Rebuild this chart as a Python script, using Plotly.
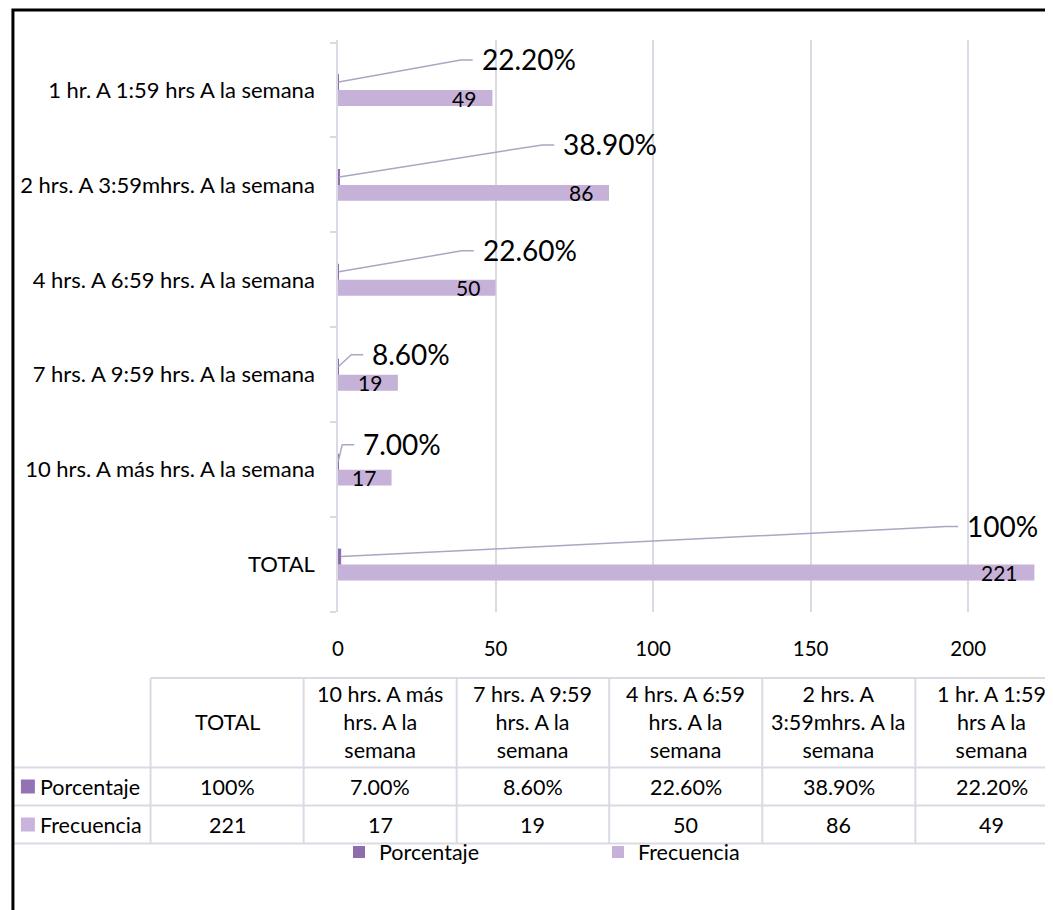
import plotly.graph_objects as go

# ---------------- data ----------------
categories = [
    "TOTAL",
    "10 hrs. A más hrs. A la semana",
    "7 hrs. A 9:59 hrs. A la semana",
    "4 hrs. A 6:59 hrs. A la semana",
    "2 hrs. A 3:59mhrs. A la semana",
    "1 hr. A 1:59 hrs A la semana",
]
table_headers = [
    "TOTAL",
    "10 hrs. A más<br>hrs. A la<br>semana",
    "7 hrs. A 9:59<br>hrs. A la<br>semana",
    "4 hrs. A 6:59<br>hrs. A la<br>semana",
    "2 hrs. A<br>3:59mhrs. A la<br>semana",
    "1 hr. A 1:59<br>hrs A la<br>semana",
]
porcentaje = [1.00, 0.070, 0.086, 0.226, 0.389, 0.222]
porcentaje_labels = ["100%", "7.00%", "8.60%", "22.60%", "38.90%", "22.20%"]
frecuencia = [221, 17, 19, 50, 86, 49]
x_ticks = [0, 50, 100, 150, 200]

# leader-line geometry for the percentage labels (pixels, layout only)
leader_dx = [605, 4, 13, 123, 203, 122]
leader_dy = [30, 17, 12, 21, 32, 22]

# ---------------- layout constants ----------------
OFFX, OFFY = 8, 8            # page body margin of the html page
W, H = 1053, 910 - OFFY
L, T = 336 - OFFX, 40 - OFFY
R = W - (1035 - OFFX)
B = H - (612 - OFFY)
PW, PH = W - L - R, H - T - B
FONT = "Lato"
C_POR = "#8e6cae"
C_FRE = "#c6b1d9"
C_POR_KEY = "#9373b4"
C_FRE_KEY = "#c8b4dc"
GRID = "#dadae5"
TXT = "#000000"


def fx(px):
    """page pixel x -> paper fraction"""
    return (px - OFFX - L) / PW


def fy(py):
    """page pixel y -> paper fraction"""
    return (H - B - (py - OFFY)) / PH


fig = go.Figure()
fig.add_trace(go.Bar(
    name="Frecuencia", y=categories, x=frecuencia, orientation="h",
    marker=dict(color=C_FRE, line=dict(width=0)), legendrank=2,
))
fig.add_trace(go.Bar(
    name="Porcentaje", y=categories, x=porcentaje, orientation="h",
    marker=dict(color=C_POR, line=dict(width=0)), legendrank=1,
))

annotations = []
shapes = []

# Frecuencia labels (inside end)
for c, v in zip(categories, frecuencia):
    annotations.append(dict(
        x=v, y=c, xref="x", yref="y", text=str(v), showarrow=False,
        xanchor="right", yanchor="middle", xshift=-14, yshift=-8,
        font=dict(family=FONT, size=21, color=TXT),
    ))

# Porcentaje labels with leader lines
for c, v, lab, dx, dy in zip(categories, porcentaje, porcentaje_labels, leader_dx, leader_dy):
    shapes.append(dict(
        type="path", xref="x", yref="y", xsizemode="pixel", ysizemode="pixel",
        xanchor=v, yanchor=c,
        path=f"M0,8 L{dx},{8 + dy} L{dx + 12},{8 + dy}",
        line=dict(color="#aba6c3", width=1.5),
    ))
    annotations.append(dict(
        x=v, y=c, xref="x", yref="y", text=lab, showarrow=False,
        xanchor="left", yanchor="middle", xshift=dx + 12 + 7, yshift=8 + dy + 1,
        font=dict(family=FONT, size=28, color=TXT),
    ))

# ---------------- data table ----------------
col_x = [148, 301.5, 455, 608, 761.5, 915, 1068]
row_y = [678, 767.5, 805.5, 843.5]
line_style = dict(color=GRID, width=2)
shapes.append(dict(type="line", xref="paper", yref="paper",
                   x0=fx(col_x[0]), x1=fx(col_x[-1]), y0=fy(row_y[0]), y1=fy(row_y[0]), line=line_style))
for yy in row_y[1:]:
    shapes.append(dict(type="line", xref="paper", yref="paper",
                       x0=fx(10), x1=fx(col_x[-1]), y0=fy(yy), y1=fy(yy), line=line_style))
for xx in col_x:
    shapes.append(dict(type="line", xref="paper", yref="paper",
                       x0=fx(xx), x1=fx(xx), y0=fy(row_y[0]), y1=fy(row_y[-1]), line=line_style))

cell_font = dict(family=FONT, size=21.5, color=TXT)
for i, (hdr, p, f) in enumerate(zip(table_headers, porcentaje_labels, frecuencia)):
    cx = (col_x[i] + col_x[i + 1]) / 2
    annotations.append(dict(x=fx(cx), y=fy((row_y[0] + row_y[1]) / 2 - 1), xref="paper", yref="paper",
                            text=hdr, showarrow=False, xanchor="center", yanchor="middle", font=cell_font))
    annotations.append(dict(x=fx(cx), y=fy((row_y[1] + row_y[2]) / 2), xref="paper", yref="paper",
                            text=p, showarrow=False, xanchor="center", yanchor="middle", font=cell_font))
    annotations.append(dict(x=fx(cx), y=fy((row_y[2] + row_y[3]) / 2), xref="paper", yref="paper",
                            text=str(f), showarrow=False, xanchor="center", yanchor="middle", font=cell_font))

for name, col, r0, r1 in [("Porcentaje", C_POR_KEY, row_y[1], row_y[2]),
                          ("Frecuencia", C_FRE_KEY, row_y[2], row_y[3])]:
    cy = (r0 + r1) / 2
    shapes.append(dict(type="rect", xref="paper", yref="paper",
                       x0=fx(18), x1=fx(32), y0=fy(cy - 7), y1=fy(cy + 7),
                       fillcolor=col, line=dict(width=0)))
    annotations.append(dict(x=fx(35), y=fy(cy), xref="paper", yref="paper", text=name,
                            showarrow=False, xanchor="left", yanchor="middle", font=cell_font))

# outer border
shapes.append(dict(type="rect", xref="paper", yref="paper",
                   x0=fx(10), x1=fx(1053 + 20), y0=fy(10), y1=fy(910 + 20),
                   line=dict(color="black", width=3), fillcolor="rgba(0,0,0,0)", layer="above"))

fig.update_layout(
    width=W, height=H,
    margin=dict(l=L, r=R, t=T, b=B, pad=0),
    paper_bgcolor="white", plot_bgcolor="white",
    barmode="group", bargap=0.664, bargroupgap=0,
    font=dict(family=FONT, size=21, color=TXT),
    showlegend=True,
    legend=dict(
        orientation="h", x=fx(337), xanchor="left", y=fy(852), yanchor="middle",
        entrywidth=214, entrywidthmode="pixels", font=dict(family=FONT, size=21.5, color=TXT),
        bgcolor="rgba(0,0,0,0)", traceorder="normal",
    ),
    xaxis=dict(
        range=[0, 221.2], tickvals=x_ticks, showgrid=True, gridcolor=GRID, gridwidth=1.5,
        zeroline=False, showline=False, ticks="", ticklabelstandoff=22,
        tickfont=dict(family=FONT, size=20.5, color=TXT), fixedrange=True,
    ),
    yaxis=dict(
        type="category", categoryorder="array", categoryarray=categories,
        showline=True, linecolor=GRID, linewidth=1.5, showgrid=False, zeroline=False,
        ticks="outside", tickson="boundaries", ticklen=6, tickcolor=GRID, tickwidth=1.5,
        ticklabelstandoff=17, tickfont=dict(family=FONT, size=22, color=TXT), fixedrange=True,
    ),
    annotations=annotations,
    shapes=shapes,
)

fig.write_html("out.html", config={"displayModeBar": False})
